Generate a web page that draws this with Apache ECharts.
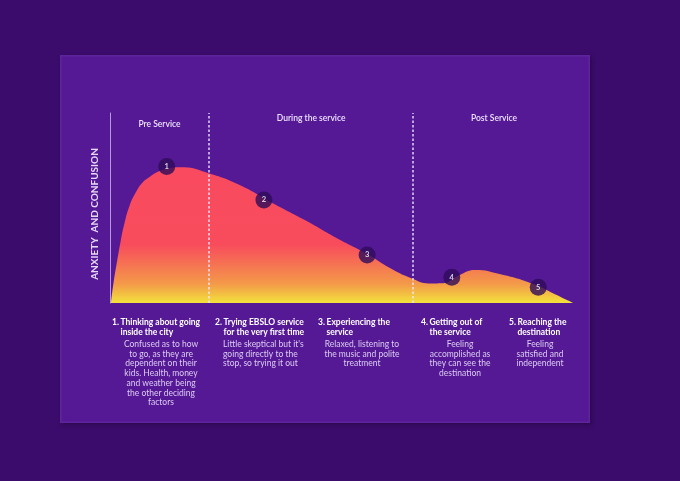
<!DOCTYPE html>
<html>
<head>
<meta charset="utf-8">
<script src="https://cdn.jsdelivr.net/npm/echarts@6/dist/echarts.min.js"></script>
<style>
  html, body { margin:0; padding:0; width:680px; height:481px; background:#3b0c6b; overflow:hidden; }
  #panel { position:absolute; left:60px; top:55px; width:530px; height:368px; background:#561996;
           box-shadow: inset 0 0 0 1.5px rgba(255,255,255,0.05), 2px 2px 4px rgba(0,0,0,0.25); }
  #chart { position:absolute; left:0; top:0; width:680px; height:481px; }
</style>
</head>
<body>
<div id="panel"></div>
<div id="chart"></div>
<script>
// ---- data ----
const yAxisTitle = 'ANXIETY  AND CONFUSION';
const phases = ['Pre Service', 'During the service', 'Post Service'];
const phaseBounds = [0, 21.3, 65.2, 100];          // x positions (data units) of phase boundaries
const curveX = [0.2, 0.75, 1.57, 2.26, 3.12, 4.19, 5.59, 7.1, 8.6, 10.3, 12.5, 15.1, 21.3, 28, 35, 42, 48.5, 55.3, 60.5, 65.2, 68.5, 71.5, 75.0, 78.5, 84.0, 91.0, 95.7, 99.6];
const curveY = [0, 10.5, 22.6, 32.1, 42.1, 51.1, 58.4, 63.7, 66.5, 69.1, 70.8, 71.4, 68.2, 62.0, 52.5, 43.5, 34.5, 25.8, 18.0, 12.6, 10.3, 10.4, 14.5, 17.4, 15.1, 10.0, 4.6, 0];
const stepNums = ['1', '2', '3', '4', '5'];
const stepX = [12.2, 33.1, 55.3, 73.5, 92.1];
const stepY = [71.8, 54.2, 25.3, 13.5, 8.3];
const stepTitles = [
  ['Thinking about going', 'inside the city'],
  ['Trying EBSLO service', 'for the very first time'],
  ['Experiencing the', 'service'],
  ['Getting out of', 'the service'],
  ['Reaching the', 'destination']
];
const stepDescs = [
  ['Confused as to how', 'to go, as they are', 'dependent on their', 'kids. Health, money', 'and weather being', 'the other deciding', 'factors'],
  ["Little skeptical but it's", 'going directly to the', 'stop, so trying it out'],
  ['Relaxed, listening to', 'the music and polite', 'treatment'],
  ['Feeling', 'accomplished as', 'they can see the', 'destination'],
  ['Feeling', 'satisfied and', 'independent']
];

// ---- layout (pixels) ----
const G = { left: 110, top: 113, width: 465, height: 190 };
const numLeft = [112, 215, 318, 421, 509];
const descAnchor = [161, 223, 362, 460, 540];
const descAlign = ['center', 'left', 'center', 'center', 'center'];
const FONT = 'Lato, "Open Sans", sans-serif';

const chart = echarts.init(document.getElementById('chart'), null, { renderer: 'canvas' });

const xToPx = v => G.left + v / 100 * G.width;

const graphics = [];
// y axis title (rotated)
graphics.push({
  type: 'text', x: 95, y: 214, rotation: Math.PI / 2,
  style: { text: yAxisTitle, fill: '#e6d9f8', font: 'bold 10px ' + FONT, align: 'center', verticalAlign: 'middle' }
});
// phase labels
phases.forEach((p, i) => {
  const cx = xToPx((phaseBounds[i] + phaseBounds[i + 1]) / 2);
  graphics.push({
    type: 'text', x: cx, y: i === 0 ? 124 : 118,
    style: { text: p, fill: '#eee3ff', font: '600 8.5px ' + FONT, align: 'center', verticalAlign: 'middle' }
  });
});
// step texts
stepTitles.forEach((t, i) => {
  graphics.push({
    type: 'text', x: numLeft[i], y: 322,
    style: { text: stepNums[i] + '.', fill: '#ffffff', font: 'bold 8.5px ' + FONT, align: 'left', verticalAlign: 'middle' }
  });
  graphics.push({
    type: 'text', x: numLeft[i] + 8.5, y: 317.5,
    style: { text: t.join('\n'), lineHeight: 9.6, fill: '#ffffff', font: 'bold 8.5px ' + FONT, align: 'left', verticalAlign: 'top' }
  });
  graphics.push({
    type: 'text', x: descAnchor[i], y: 339.2,
    style: { text: stepDescs[i].join('\n'), lineHeight: 9.75, fill: '#dccdf2', font: '8.5px ' + FONT, align: descAlign[i], verticalAlign: 'top' }
  });
});

chart.setOption({
  backgroundColor: 'transparent',
  animation: false,
  grid: { left: G.left, top: G.top, width: G.width, height: G.height },
  xAxis: { type: 'value', min: 0, max: 100, show: false },
  yAxis: {
    type: 'value', min: 0, max: 100,
    axisLine: { show: true, lineStyle: { color: '#b49ad8', width: 1 } },
    axisTick: { show: false }, axisLabel: { show: false }, splitLine: { show: false }
  },
  series: [
    {
      type: 'line', smooth: 0.5, symbol: 'none',
      data: curveX.map((x, i) => [x, curveY[i]]),
      lineStyle: { width: 0, opacity: 0 },
      areaStyle: {
        opacity: 1,
        color: new echarts.graphic.LinearGradient(0, 0, 0, 1, [
          { offset: 0, color: '#f94a5f' },
          { offset: 0.57, color: '#f84c5c' },
          { offset: 0.86, color: '#f39a49' },
          { offset: 1, color: '#f2e23b' }
        ])
      },
      z: 1
    },
    {
      type: 'scatter', symbol: 'circle', symbolSize: 17,
      data: stepX.map((x, i) => ({ value: [x, stepY[i]], name: stepNums[i] })),
      itemStyle: { color: '#2e0b5a' },
      label: { show: true, position: 'inside', formatter: p => p.name, color: '#ffffff', fontSize: 7.5, fontWeight: 'bold', fontFamily: FONT },
      markLine: {
        silent: true, symbol: 'none', animation: false,
        label: { show: false },
        lineStyle: { color: 'rgba(240,232,255,0.9)', type: [2.5, 2], width: 1.5 },
        data: [{ xAxis: phaseBounds[1] }, { xAxis: phaseBounds[2] }]
      },
      z: 3
    }
  ],
  graphic: graphics
});
</script>
</body>
</html>
